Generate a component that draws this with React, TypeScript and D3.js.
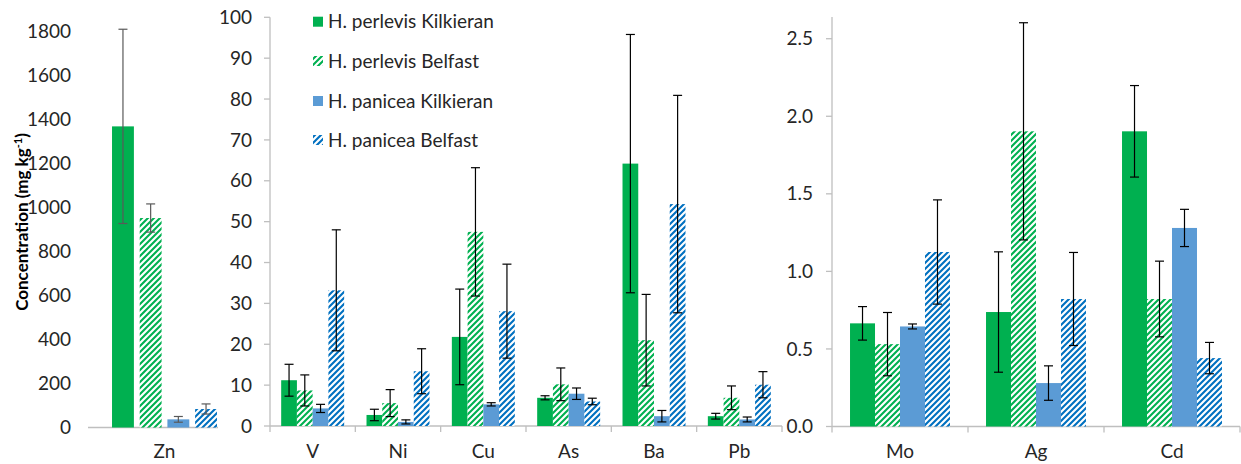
import React from "react";
import * as d3 from "d3";

const seriesNames = [
  "H. perlevis Kilkieran",
  "H. perlevis Belfast",
  "H. panicea Kilkieran",
  "H. panicea Belfast",
];

const leftCategories = ["Zn"];
const middleCategories = ["V", "Ni", "Cu", "As", "Ba", "Pb"];
const rightCategories = ["Mo", "Ag", "Cd"];

// order: Zn, V, Ni, Cu, As, Ba, Pb, Mo, Ag, Cd
const allCategories = [...leftCategories, ...middleCategories, ...rightCategories];
const perlevisKilkieran = [1367, 11.2, 2.7, 21.8, 6.9, 64.2, 2.4, 0.665, 0.738, 1.903];
const perlevisKilkieranErr = [441, 3.9, 1.4, 11.7, 0.5, 31.6, 0.7, 0.108, 0.388, 0.295];
const perlevisBelfast = [951, 8.7, 5.6, 47.5, 10.2, 21.0, 6.9, 0.531, 1.903, 0.822];
const perlevisBelfastErr = [64, 3.8, 3.3, 15.7, 4.0, 11.2, 2.9, 0.204, 0.70, 0.244];
const paniceaKilkieran = [37, 4.3, 1.0, 5.3, 7.9, 2.4, 1.6, 0.645, 0.280, 1.280];
const paniceaKilkieranErr = [13, 1.0, 0.5, 0.4, 1.4, 1.4, 0.6, 0.016, 0.111, 0.12];
const paniceaBelfast = [84, 33.2, 13.4, 28.1, 6.0, 54.3, 10.1, 1.125, 0.822, 0.441];
const paniceaBelfastErr = [23, 14.8, 5.5, 11.5, 0.8, 26.6, 3.2, 0.336, 0.30, 0.101];

const leftTicks = [0, 200, 400, 600, 800, 1000, 1200, 1400, 1600, 1800];
const middleTicks = [0, 10, 20, 30, 40, 50, 60, 70, 80, 90, 100];
const rightTicks = [0, 0.5, 1.0, 1.5, 2.0, 2.5];

const seriesValues = [perlevisKilkieran, perlevisBelfast, paniceaKilkieran, paniceaBelfast];
const seriesErrors = [perlevisKilkieranErr, perlevisBelfastErr, paniceaKilkieranErr, paniceaBelfastErr];

const GREEN = "#00B050";
const BLUE = "#5B9BD5";
const DBLUE = "#0070C0";
const fills = [GREEN, "url(#hatchGreen)", BLUE, "url(#hatchBlue)"];
const FONT = "Lato, 'Noto Sans', sans-serif";
const TXT = "#262626";
const AXIS = "#BFBFBF";

type PanelProps = {
  cats: string[];
  offset: number;
  xRange: [number, number];
  pad: number;
  innerPad: number;
  y: d3.ScaleLinear<number, number>;
  ticks: number[];
  fmt: (v: number) => string;
  labelRight: number;
  axisX: number | null;
  baseEnd: number;
  baseStart: number;
  errColor: string;
  catTicks: boolean;
  axisTop: number;
};

function Panel(p: PanelProps) {
  const x = d3.scaleBand<string>().domain(p.cats).range(p.xRange).paddingInner(p.pad).paddingOuter(p.pad / 2);
  const inner = d3.scaleBand<number>().domain([0, 1, 2, 3]).range([0, x.bandwidth()]).paddingInner(p.innerPad);
  const y0 = p.y(0);
  const step = x.step();
  return (
    <g>
      {p.ticks.map((t) => (
        <text key={t} x={p.labelRight} y={p.y(t)} dy="0.35em" textAnchor="end" fontSize={19} fill={TXT} fontFamily={FONT}>
          {p.fmt(t)}
        </text>
      ))}
      {p.axisX !== null && (
        <g>
          <line x1={p.axisX} x2={p.axisX} y1={p.axisTop} y2={y0 + 6} stroke={AXIS} strokeWidth={1.3} />
          {p.ticks.map((t) => (
            <line key={t} x1={p.axisX! - 6} x2={p.axisX!} y1={p.y(t)} y2={p.y(t)} stroke={AXIS} strokeWidth={1.3} />
          ))}
        </g>
      )}
      <line x1={p.baseStart} x2={p.baseEnd} y1={y0} y2={y0} stroke={AXIS} strokeWidth={1.3} />
      {p.catTicks &&
        p.cats.map((c, i) => (
          <line key={c} x1={p.xRange[0] + (i + 1) * step} x2={p.xRange[0] + (i + 1) * step} y1={y0} y2={y0 + 6} stroke={AXIS} strokeWidth={1.3} />
        ))}
      {p.cats.map((c, ci) => {
        const idx = p.offset + ci;
        const gx = x(c)!;
        return (
          <g key={c}>
            {seriesValues.map((vals, si) => {
              const v = vals[idx];
              const bx = gx + inner(si)!;
              const bw = inner.bandwidth();
              return (
                <rect key={si} x={bx} y={p.y(v)} width={bw} height={y0 - p.y(v)} fill={fills[si]} />
              );
            })}
            {seriesValues.map((vals, si) => {
              const v = vals[idx];
              const e = seriesErrors[si][idx];
              const cx = gx + inner(si)! + inner.bandwidth() / 2;
              const yt = p.y(v + e);
              const yb = p.y(Math.max(0, v - e));
              return (
                <g key={"e" + si} stroke={p.errColor} strokeWidth={1.2}>
                  <line x1={cx} x2={cx} y1={yt} y2={yb} />
                  <line x1={cx - 4.5} x2={cx + 4.5} y1={yt} y2={yt} />
                  <line x1={cx - 4.5} x2={cx + 4.5} y1={yb} y2={yb} />
                </g>
              );
            })}
            <text x={gx + x.bandwidth() / 2} y={458} textAnchor="middle" fontSize={19} fill={TXT} fontFamily={FONT}>
              {c}
            </text>
          </g>
        );
      })}
    </g>
  );
}

export default function App() {
  const yLeft = d3.scaleLinear().domain([0, 1800]).range([427.5, 31]);
  const yMid = d3.scaleLinear().domain([0, 100]).range([426, 17.3]);
  const yRight = d3.scaleLinear().domain([0, 2.64]).range([426.5, 17]);
  const legendRows = [21.7, 61, 101, 140];
  return (
    <svg width={1241} height={464} style={{ position: "absolute", left: 0, top: 0, background: "white" }}>
      <defs>
        <pattern id="hatchGreen" patternUnits="userSpaceOnUse" width={6} height={6}>
          <rect width={6} height={6} fill="white" />
          <path d="M-1,1 L1,-1 M0,6 L6,0 M5,7 L7,5" stroke={GREEN} strokeWidth={2.1} />
        </pattern>
        <pattern id="hatchBlue" patternUnits="userSpaceOnUse" width={6} height={6}>
          <rect width={6} height={6} fill="white" />
          <path d="M-1,1 L1,-1 M0,6 L6,0 M5,7 L7,5" stroke={DBLUE} strokeWidth={2.1} />
        </pattern>
      </defs>
      <rect width={1241} height={464} fill="white" />
      <Panel
        cats={leftCategories}
        offset={0}
        xRange={[88, 241]}
        pad={0.314}
        innerPad={0.21}
        y={yLeft}
        ticks={leftTicks}
        fmt={(v) => String(v)}
        labelRight={71}
        axisX={null}
        baseStart={88}
        baseEnd={218}
        errColor="#595959"
        catTicks={false}
        axisTop={17}
      />
      <Panel
        cats={middleCategories}
        offset={1}
        xRange={[270, 782]}
        pad={0.262}
        innerPad={0}
        y={yMid}
        ticks={middleTicks}
        fmt={(v) => String(v)}
        labelRight={252}
        axisX={270}
        baseStart={270}
        baseEnd={782}
        errColor="#000"
        catTicks={true}
        axisTop={17.3}
      />
      <Panel
        cats={rightCategories}
        offset={7}
        xRange={[832, 1240]}
        pad={0.265}
        innerPad={0}
        y={yRight}
        ticks={rightTicks}
        fmt={d3.format(".1f")}
        labelRight={813}
        axisX={832}
        baseStart={832}
        baseEnd={1240}
        errColor="#000"
        catTicks={true}
        axisTop={17}
      />
      <text
        transform="translate(28,222) rotate(-90)"
        textAnchor="middle"
        fontSize={17}
        fontWeight="bold"
        fill="#000"
        fontFamily={FONT}
      >
        Concentration (mg kg
        <tspan dy={-6} fontSize={11}>-1</tspan>
        <tspan dy={6}>)</tspan>
      </text>
      {seriesNames.map((n, i) => (
        <g key={n}>
          <rect x={313} y={legendRows[i] - 5} width={10} height={10} fill={fills[i]} />
          <text x={328} y={legendRows[i]} dy="0.35em" fontSize={19} fill={TXT} fontFamily={FONT}>
            {n}
          </text>
        </g>
      ))}
    </svg>
  );
}
